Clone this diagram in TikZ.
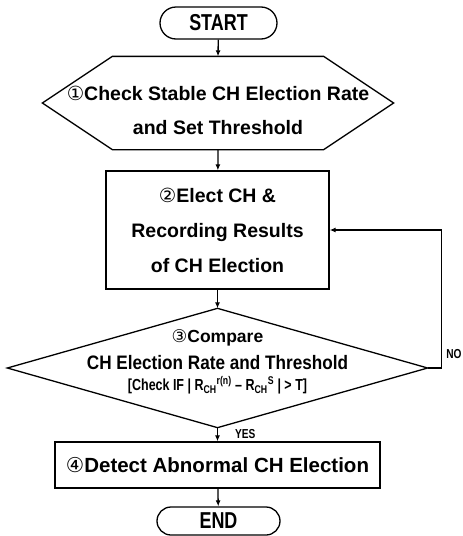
\documentclass[tikz,border=0pt]{standalone}
\usepackage{fontspec}
\setmainfont{Liberation Sans}
\newfontfamily\narrowfont{Liberation Sans}[FakeStretch=0.78]
\newfontfamily\condfont{Liberation Sans}[FakeStretch=0.88]
\newfontfamily\circfont{DejaVu Sans}
\newcommand\cnum[1]{{\circfont\mdseries #1}}
\usetikzlibrary{arrows.meta}

\begin{document}
\begin{tikzpicture}[x=1pt,y=-1pt,line width=1.3pt,
  term/.style={draw,inner sep=0pt,font=\narrowfont\bfseries\fontsize{23}{23}\selectfont},
  proc/.style={draw,align=center,inner sep=0pt,font=\bfseries\fontsize{19.5}{35}\selectfont},
  flow/.style={-{Latex[length=6pt,width=5pt]}},
  lbl/.style={inner sep=0pt,font=\narrowfont\bfseries\fontsize{13}{13}\selectfont}]
\useasboundingbox (0,0) rectangle (463,536);

% terminals
\node[term,rounded corners=16pt,minimum width=117pt,minimum height=32pt] (start) at (218.5,23) {START};
\node[term,rounded corners=14pt,minimum width=123pt,minimum height=28pt] (end) at (218.5,521) {END};

% step 1: hexagon
\node[minimum width=350pt,minimum height=92pt,inner sep=0pt] (chk) at (218,103) {};
\draw ([xshift=70pt]chk.north west) -- ([xshift=-70pt]chk.north east) -- (chk.east)
  -- ([xshift=-70pt]chk.south east) -- ([xshift=70pt]chk.south west) -- (chk.west) -- cycle;
\node[align=center,inner sep=0pt,font=\bfseries\fontsize{19.5}{34}\selectfont] (chktxt)
  at ([yshift=-7pt]chk.center) {\cnum{①}Check Stable CH Election Rate\\and Set Threshold};

% step 2
\node[proc,minimum width=223pt,minimum height=118pt] (elect) at (217.5,230)
  {\cnum{②}Elect CH \&\\Recording Results\\of CH Election};

% step 3: diamond
\node[minimum width=419pt,minimum height=118pt,inner sep=0pt] (cmp) at (217.5,368) {};
\draw (cmp.north) -- (cmp.east) -- (cmp.south) -- (cmp.west) -- cycle;
\node[align=center,inner sep=0pt,font=\bfseries\fontsize{19.5}{21}\selectfont] (cmptxt)
  at ([yshift=6pt]cmp.center)
  {{\fontsize{17.5}{21}\selectfont\cnum{③}Compare}\\[6pt]
   {\condfont CH Election Rate and Threshold}\\
   {\narrowfont\fontsize{16}{21}\selectfont [Check IF | R\textsubscript{CH}\textsuperscript{r(n)} – R\textsubscript{CH}\textsuperscript{S} | > T]}};

% step 4
\node[proc,minimum width=325pt,minimum height=46pt,font=\bfseries\fontsize{20.5}{20}\selectfont] (detect) at (217.5,465)
  {\cnum{④}Detect Abnormal CH Election};

% connectors
\draw[flow] (start) -- (chk.north);
\draw[flow] (chk.south) -- (elect);
\draw[flow] (elect) -- (cmp.north);
\draw[flow] (cmp.south) -- node[lbl,right=17pt] (yes) {YES} (detect);
\draw[flow] (detect) -- (end);
\draw[flow] (cmp.east) -- ++(14,0) coordinate (nob) |- (elect.east);
\node[lbl,anchor=south west] (no) at ([xshift=4pt,yshift=9pt]nob) {NO};
\end{tikzpicture}
\end{document}
